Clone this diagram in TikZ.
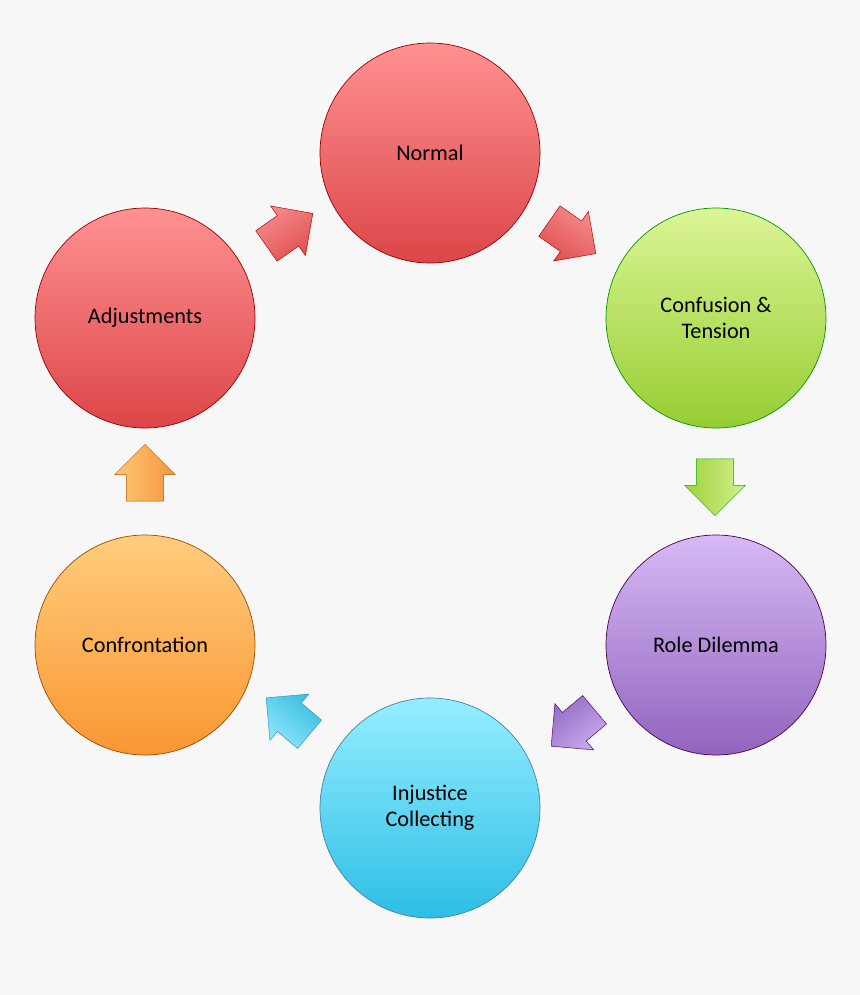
\documentclass[tikz,border=0pt]{standalone}
\usepackage{fontspec}
\setmainfont{Carlito}
\usetikzlibrary{shapes.arrows}
\definecolor{bg}{RGB}{247,247,247}
\begin{document}
\begin{tikzpicture}[x=0.03cm,y=-0.03cm,
 circ/.style={circle,minimum size=6.6cm,inner sep=0pt,align=center,font=\fontsize{19}{22}\selectfont,draw=#1!60!black,line width=0.6pt},
 arr/.style={single arrow,minimum height=1.7cm,inner xsep=0pt,inner ysep=0.55cm,single arrow head extend=0.35cm,single arrow head indent=0cm,draw=#1!70!black,line width=0.4pt}]
\fill[bg] (0,0) rectangle (860,995);
\useasboundingbox (0,0) rectangle (860,995);
\node[circ=red,top color={rgb,255:red,255;green,145;blue,145},bottom color={rgb,255:red,220;green,70;blue,72}] (n) at (430,153) {Normal};
\node[circ=green,top color={rgb,255:red,220;green,245;blue,150},bottom color={rgb,255:red,150;green,205;blue,50}] (c) at (716,318) {Confusion \&\\Tension};
\node[circ=violet,top color={rgb,255:red,215;green,185;blue,245},bottom color={rgb,255:red,145;green,100;blue,190}] (r) at (716,645) {Role Dilemma};
\node[circ=cyan,top color={rgb,255:red,150;green,238;blue,255},bottom color={rgb,255:red,45;green,190;blue,230}] (i) at (430,808) {Injustice\\Collecting};
\node[circ=orange,top color={rgb,255:red,255;green,205;blue,125},bottom color={rgb,255:red,250;green,150;blue,50}] (f) at (145,645) {Confrontation};
\node[circ=red,top color={rgb,255:red,255;green,145;blue,145},bottom color={rgb,255:red,220;green,70;blue,72}] (a) at (145,318) {Adjustments};
\node[arr=red,rotate=-35,top color={rgb,255:red,245;green,140;blue,140},bottom color={rgb,255:red,225;green,80;blue,80},shading angle=-35] (a1) at (565,232) {};
\node[arr=green,rotate=-90,top color={rgb,255:red,210;green,240;blue,140},bottom color={rgb,255:red,160;green,210;blue,60},shading angle=-90] (a2) at (715,478) {};
\node[arr=violet,rotate=-140,top color={rgb,255:red,200;green,170;blue,235},bottom color={rgb,255:red,150;green,110;blue,200},shading angle=-140] (a3) at (580,722) {};
\node[arr=cyan,rotate=140,top color={rgb,255:red,140;green,230;blue,250},bottom color={rgb,255:red,60;green,190;blue,225},shading angle=140] (a4) at (295,722) {};
\node[arr=orange,rotate=90,top color={rgb,255:red,255;green,200;blue,120},bottom color={rgb,255:red,245;green,150;blue,60},shading angle=90] (a5) at (145,482) {};
\node[arr=red,rotate=35,top color={rgb,255:red,245;green,140;blue,140},bottom color={rgb,255:red,225;green,80;blue,80},shading angle=35] (a6) at (282,235) {};
\end{tikzpicture}
\end{document}
